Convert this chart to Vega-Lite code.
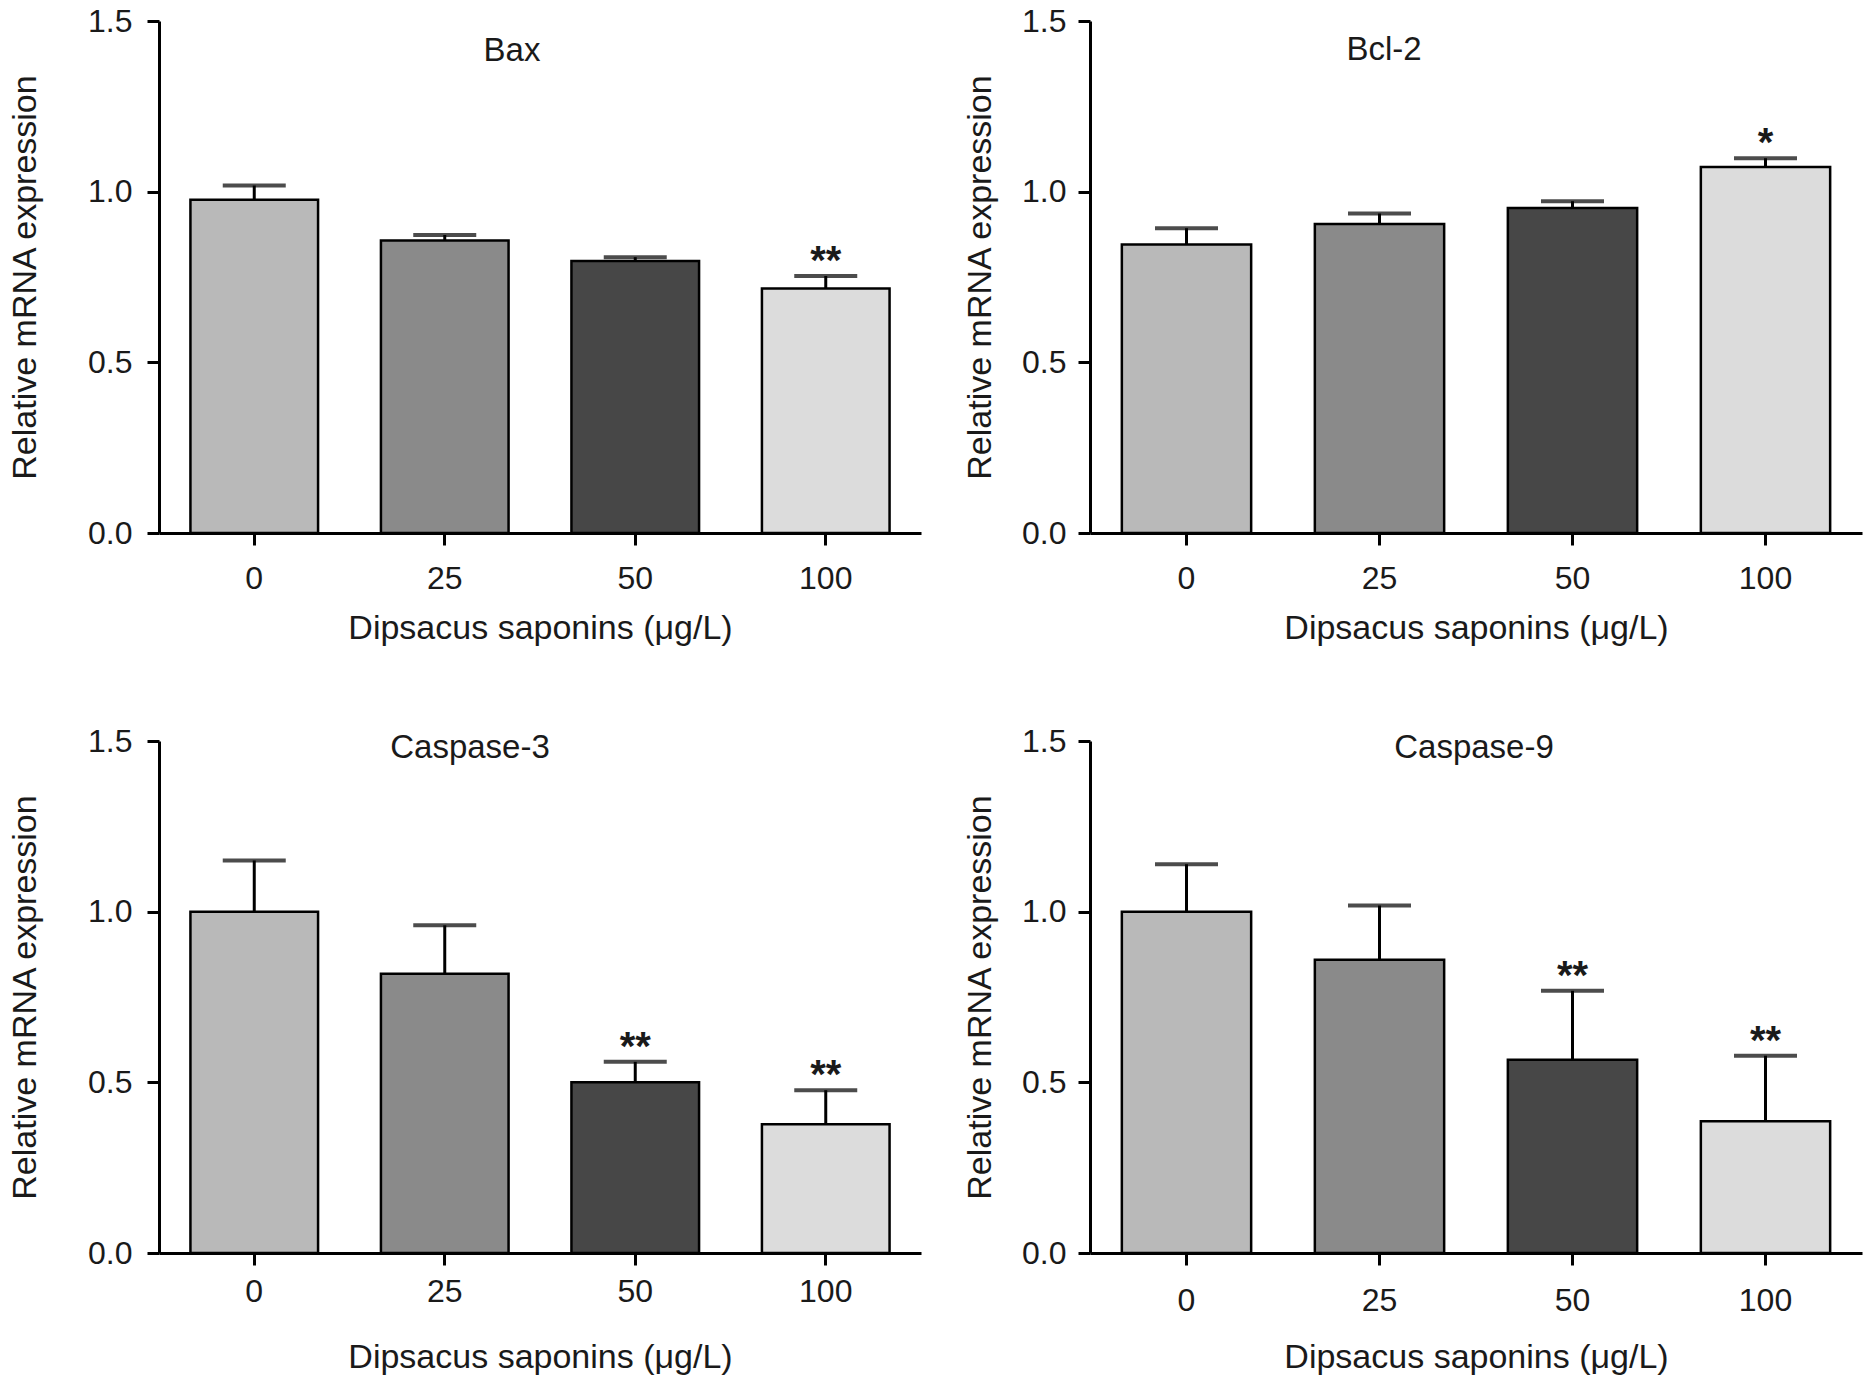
{
  "$schema": "https://vega.github.io/schema/vega-lite/v6.json",
  "background": "white",
  "padding": {"left": 8, "top": 5, "right": 5, "bottom": 5},
  "data": {
    "values": [
      {"panel": "Bax", "dose": "0", "mean": 0.976, "upper": 1.018, "sig": ""},
      {"panel": "Bax", "dose": "25", "mean": 0.857, "upper": 0.873, "sig": ""},
      {"panel": "Bax", "dose": "50", "mean": 0.797, "upper": 0.808, "sig": ""},
      {"panel": "Bax", "dose": "100", "mean": 0.716, "upper": 0.753, "sig": "**"},
      {"panel": "Bcl-2", "dose": "0", "mean": 0.845, "upper": 0.893, "sig": ""},
      {"panel": "Bcl-2", "dose": "25", "mean": 0.905, "upper": 0.936, "sig": ""},
      {"panel": "Bcl-2", "dose": "50", "mean": 0.952, "upper": 0.972, "sig": ""},
      {"panel": "Bcl-2", "dose": "100", "mean": 1.072, "upper": 1.098, "sig": "*"},
      {"panel": "Caspase-3", "dose": "0", "mean": 1.0, "upper": 1.15, "sig": ""},
      {"panel": "Caspase-3", "dose": "25", "mean": 0.818, "upper": 0.96, "sig": ""},
      {"panel": "Caspase-3", "dose": "50", "mean": 0.5, "upper": 0.56, "sig": "**"},
      {"panel": "Caspase-3", "dose": "100", "mean": 0.377, "upper": 0.477, "sig": "**"},
      {"panel": "Caspase-9", "dose": "0", "mean": 1.0, "upper": 1.139, "sig": ""},
      {"panel": "Caspase-9", "dose": "25", "mean": 0.859, "upper": 1.018, "sig": ""},
      {"panel": "Caspase-9", "dose": "50", "mean": 0.566, "upper": 0.768, "sig": "**"},
      {"panel": "Caspase-9", "dose": "100", "mean": 0.386, "upper": 0.578, "sig": "**"}
    ]
  },
  "config": {
    "view": {"stroke": null},
    "font": "Liberation Sans",
    "scale": {"bandPaddingInner": 0.33, "bandPaddingOuter": 0.165},
    "axis": {
      "grid": false,
      "domainColor": "#000000",
      "domainWidth": 3,
      "tickColor": "#000000",
      "tickWidth": 3,
      "tickSize": 12,
      "labelFont": "Liberation Sans",
      "labelFontSize": 32,
      "labelColor": "#1a1a1a",
      "titleFont": "Liberation Sans",
      "titleFontSize": 34,
      "titleFontWeight": "normal",
      "titleColor": "#1a1a1a"
    },
    "axisX": {"labelAngle": 0},
    "title": {
      "font": "Liberation Sans",
      "fontSize": 33,
      "fontWeight": "normal",
      "color": "#1a1a1a",
      "frame": "group",
      "anchor": "middle",
      "baseline": "middle"
    }
  },
  "spacing": 80,
  "vconcat": [
    {
      "spacing": 42,
      "hconcat": [
        {
          "width": 762,
          "height": 512,
          "title": {"text": "Bax", "offset": -63, "dx": -28},
          "transform": [{"filter": "datum.panel === 'Bax'"}],
          "encoding": {
            "x": {"field": "dose", "type": "nominal", "sort": ["0", "25", "50", "100"], "title": "Dipsacus saponins (μg/L)",
                  "axis": {"labelPadding": 18, "titlePadding": 17}}
          },
          "layer": [
            {
              "mark": {"type": "bar", "stroke": "#000000", "strokeWidth": 2.5},
              "encoding": {
                "y": {"field": "mean", "type": "quantitative", "title": "Relative mRNA expression",
                      "scale": {"domain": [0, 1.5], "nice": false},
                      "axis": {"values": [0, 0.5, 1, 1.5], "format": ".1f", "labelPadding": 15, "titlePadding": 45}},
                "color": {"field": "dose", "type": "nominal", "legend": null,
                          "scale": {"domain": ["0", "25", "50", "100"], "range": ["#b9b9b9", "#8a8a8a", "#474747", "#dcdcdc"]}}
              }
            },
            {
              "mark": {"type": "rule", "color": "#000000", "strokeWidth": 3},
              "encoding": {"y": {"field": "mean", "type": "quantitative", "title": "Relative mRNA expression"}, "y2": {"field": "upper"}}
            },
            {
              "mark": {"type": "tick", "color": "#000000", "size": 63, "thickness": 4},
              "encoding": {"y": {"field": "upper", "type": "quantitative", "title": "Relative mRNA expression"}}
            },
            {
              "mark": {"type": "text", "fontSize": 40, "fontWeight": "bold", "baseline": "alphabetic", "dy": -2, "color": "#1a1a1a"},
              "encoding": {"y": {"field": "upper", "type": "quantitative", "title": "Relative mRNA expression"}, "text": {"field": "sig"}}
            }
          ]
        },
        {
          "width": 772,
          "height": 512,
          "title": {"text": "Bcl-2", "offset": -62, "dx": -92},
          "transform": [{"filter": "datum.panel === 'Bcl-2'"}],
          "encoding": {
            "x": {"field": "dose", "type": "nominal", "sort": ["0", "25", "50", "100"], "title": "Dipsacus saponins (μg/L)",
                  "axis": {"labelPadding": 18, "titlePadding": 17}}
          },
          "layer": [
            {
              "mark": {"type": "bar", "stroke": "#000000", "strokeWidth": 2.5},
              "encoding": {
                "y": {"field": "mean", "type": "quantitative", "title": "Relative mRNA expression",
                      "scale": {"domain": [0, 1.5], "nice": false},
                      "axis": {"values": [0, 0.5, 1, 1.5], "format": ".1f", "labelPadding": 12, "titlePadding": 24}},
                "color": {"field": "dose", "type": "nominal", "legend": null,
                          "scale": {"domain": ["0", "25", "50", "100"], "range": ["#b9b9b9", "#8a8a8a", "#474747", "#dcdcdc"]}}
              }
            },
            {
              "mark": {"type": "rule", "color": "#000000", "strokeWidth": 3},
              "encoding": {"y": {"field": "mean", "type": "quantitative", "title": "Relative mRNA expression"}, "y2": {"field": "upper"}}
            },
            {
              "mark": {"type": "tick", "color": "#000000", "size": 63, "thickness": 4},
              "encoding": {"y": {"field": "upper", "type": "quantitative", "title": "Relative mRNA expression"}}
            },
            {
              "mark": {"type": "text", "fontSize": 40, "fontWeight": "bold", "baseline": "alphabetic", "dy": -2, "color": "#1a1a1a"},
              "encoding": {"y": {"field": "upper", "type": "quantitative", "title": "Relative mRNA expression"}, "text": {"field": "sig"}}
            }
          ]
        }
      ]
    },
    {
      "spacing": 42,
      "hconcat": [
        {
          "width": 762,
          "height": 512,
          "title": {"text": "Caspase-3", "offset": -40, "dx": -70},
          "transform": [{"filter": "datum.panel === 'Caspase-3'"}],
          "encoding": {
            "x": {"field": "dose", "type": "nominal", "sort": ["0", "25", "50", "100"], "title": "Dipsacus saponins (μg/L)",
                  "axis": {"labelPadding": 11, "titlePadding": 33}}
          },
          "layer": [
            {
              "mark": {"type": "bar", "stroke": "#000000", "strokeWidth": 2.5},
              "encoding": {
                "y": {"field": "mean", "type": "quantitative", "title": "Relative mRNA expression",
                      "scale": {"domain": [0, 1.5], "nice": false},
                      "axis": {"values": [0, 0.5, 1, 1.5], "format": ".1f", "labelPadding": 15, "titlePadding": 45}},
                "color": {"field": "dose", "type": "nominal", "legend": null,
                          "scale": {"domain": ["0", "25", "50", "100"], "range": ["#b9b9b9", "#8a8a8a", "#474747", "#dcdcdc"]}}
              }
            },
            {
              "mark": {"type": "rule", "color": "#000000", "strokeWidth": 3},
              "encoding": {"y": {"field": "mean", "type": "quantitative", "title": "Relative mRNA expression"}, "y2": {"field": "upper"}}
            },
            {
              "mark": {"type": "tick", "color": "#000000", "size": 63, "thickness": 4},
              "encoding": {"y": {"field": "upper", "type": "quantitative", "title": "Relative mRNA expression"}}
            },
            {
              "mark": {"type": "text", "fontSize": 40, "fontWeight": "bold", "baseline": "alphabetic", "dy": -2, "color": "#1a1a1a"},
              "encoding": {"y": {"field": "upper", "type": "quantitative", "title": "Relative mRNA expression"}, "text": {"field": "sig"}}
            }
          ]
        },
        {
          "width": 772,
          "height": 512,
          "title": {"text": "Caspase-9", "offset": -40, "dx": -2},
          "transform": [{"filter": "datum.panel === 'Caspase-9'"}],
          "encoding": {
            "x": {"field": "dose", "type": "nominal", "sort": ["0", "25", "50", "100"], "title": "Dipsacus saponins (μg/L)",
                  "axis": {"labelPadding": 20, "titlePadding": 24}}
          },
          "layer": [
            {
              "mark": {"type": "bar", "stroke": "#000000", "strokeWidth": 2.5},
              "encoding": {
                "y": {"field": "mean", "type": "quantitative", "title": "Relative mRNA expression",
                      "scale": {"domain": [0, 1.5], "nice": false},
                      "axis": {"values": [0, 0.5, 1, 1.5], "format": ".1f", "labelPadding": 12, "titlePadding": 24}},
                "color": {"field": "dose", "type": "nominal", "legend": null,
                          "scale": {"domain": ["0", "25", "50", "100"], "range": ["#b9b9b9", "#8a8a8a", "#474747", "#dcdcdc"]}}
              }
            },
            {
              "mark": {"type": "rule", "color": "#000000", "strokeWidth": 3},
              "encoding": {"y": {"field": "mean", "type": "quantitative", "title": "Relative mRNA expression"}, "y2": {"field": "upper"}}
            },
            {
              "mark": {"type": "tick", "color": "#000000", "size": 63, "thickness": 4},
              "encoding": {"y": {"field": "upper", "type": "quantitative", "title": "Relative mRNA expression"}}
            },
            {
              "mark": {"type": "text", "fontSize": 40, "fontWeight": "bold", "baseline": "alphabetic", "dy": -2, "color": "#1a1a1a"},
              "encoding": {"y": {"field": "upper", "type": "quantitative", "title": "Relative mRNA expression"}, "text": {"field": "sig"}}
            }
          ]
        }
      ]
    }
  ]
}
